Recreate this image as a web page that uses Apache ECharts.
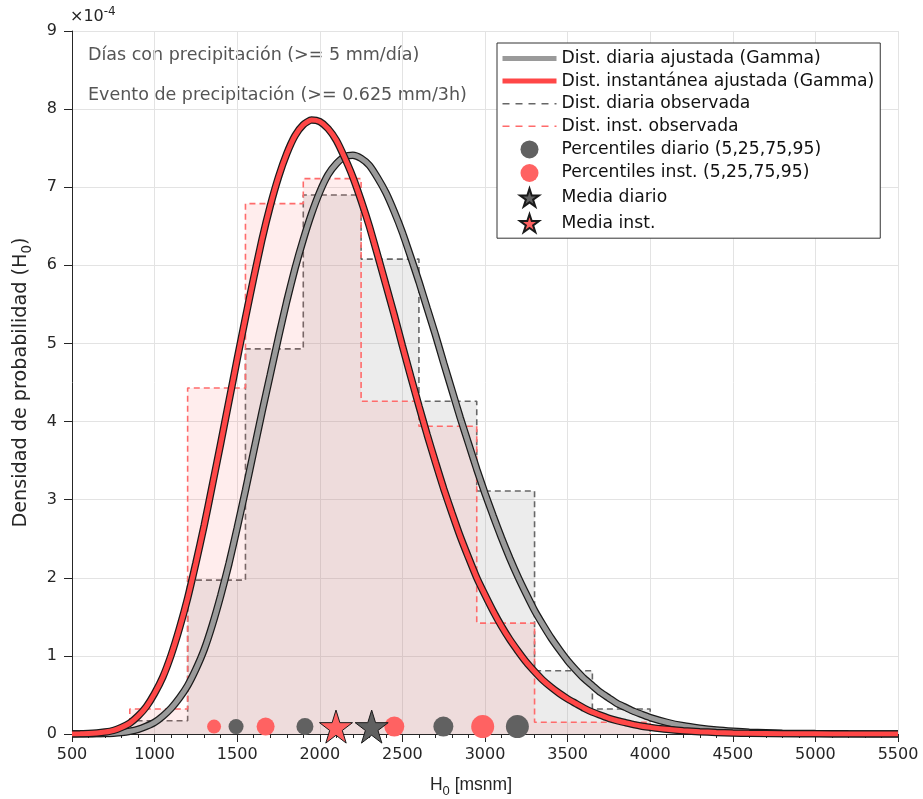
<!DOCTYPE html>
<html>
<head>
<meta charset="utf-8">
<script src="https://cdn.jsdelivr.net/npm/echarts@6/dist/echarts.min.js"></script>
<style>
  html, body { margin: 0; padding: 0; background: #fff; }
  #chart { width: 923px; height: 799px; }
</style>
</head>
<body>
<div id="chart"></div>
<script>
// ---- Data (density values in units of 1e-4) ----
const xTicks = [500, 1000, 1500, 2000, 2500, 3000, 3500, 4000, 4500, 5000, 5500];
const yTicks = [0, 1, 2, 3, 4, 5, 6, 7, 8, 9];
const binEdges = [850, 1200, 1550, 1900, 2250, 2600, 2950, 3300, 3650, 4000];
const dailyHist = [0.17, 1.97, 4.93, 6.90, 6.08, 4.26, 3.11, 0.81, 0.32];
const instHist  = [0.32, 4.43, 6.79, 7.11, 4.26, 3.94, 1.42, 0.15, 0.15];

const curveX = [500,550,600,650,700,750,800,850,900,950,1000,1050,1100,1150,1200,1250,1300,1350,1400,1450,1500,1550,1600,1650,1700,1750,1800,1850,1900,1950,2000,2050,2100,2150,2200,2250,2300,2350,2400,2450,2500,2550,2600,2650,2700,2750,2800,2850,2900,2950,3000,3050,3100,3150,3200,3250,3300,3350,3400,3450,3500,3550,3600,3650,3700,3750,3800,3850,3900,3950,4000,4100,4200,4300,4400,4500,4600,4800,5000,5200,5500];
const dailyFit = [0,0,0.001,0.002,0.005,0.01,0.019,0.035,0.06,0.099,0.15,0.23,0.33,0.46,0.62,0.83,1.08,1.40,1.77,2.18,2.64,3.12,3.62,4.12,4.60,5.08,5.54,5.96,6.33,6.66,6.94,7.16,7.30,7.39,7.41,7.37,7.28,7.12,6.93,6.69,6.42,6.11,5.79,5.45,5.11,4.75,4.40,4.05,3.72,3.39,3.08,2.79,2.51,2.25,2.01,1.79,1.58,1.40,1.23,1.08,0.94,0.82,0.71,0.62,0.53,0.46,0.39,0.34,0.29,0.25,0.21,0.15,0.105,0.075,0.052,0.036,0.024,0.011,0.005,0.002,0.0005];
const instFit  = [0,0.002,0.005,0.012,0.025,0.045,0.085,0.14,0.23,0.35,0.52,0.73,1.01,1.35,1.74,2.19,2.67,3.19,3.72,4.26,4.80,5.33,5.84,6.33,6.76,7.13,7.43,7.66,7.80,7.86,7.84,7.75,7.60,7.38,7.13,6.83,6.50,6.13,5.75,5.37,4.97,4.58,4.20,3.83,3.48,3.14,2.83,2.53,2.26,2.00,1.78,1.57,1.38,1.21,1.06,0.92,0.80,0.69,0.60,0.52,0.45,0.39,0.33,0.28,0.24,0.20,0.17,0.145,0.12,0.10,0.085,0.06,0.042,0.029,0.02,0.013,0.009,0.004,0.002,0.001,0];

const dailyPct = [1493, 1910, 2748, 3196];
const instPct  = [1360, 1672, 2451, 2986];
const markerLevel = 0.095;
const dailyMean = 2314;
const instMean = 2098;

const legendNames = [
  'Dist. diaria ajustada (Gamma)',
  'Dist. instantánea ajustada (Gamma)',
  'Dist. diaria observada',
  'Dist. inst. observada',
  'Percentiles diario (5,25,75,95)',
  'Percentiles inst. (5,25,75,95)',
  'Media diario',
  'Media inst.'
];
const annotations = ['Días con precipitación (>= 5 mm/día)', 'Evento de precipitación (>= 0.625 mm/3h)'];

// ---- Builders ----
function stepOutline(edges, vals) {
  const pts = [[edges[0], 0]];
  for (let i = 0; i < vals.length; i++) {
    pts.push([edges[i], vals[i]]);
    pts.push([edges[i + 1], vals[i]]);
  }
  pts.push([edges[edges.length - 1], 0]);
  return pts;
}
const zip = (xs, ys) => xs.map((x, i) => [x, ys[i]]);

const dailyPctSizes = [15, 17, 20, 23];
const instPctSizes = [14, 18, 20, 23];
const STAR = 'path://M50,0 L61.2,34.5 L97.6,34.5 L68.2,55.9 L79.4,90.5 L50,69.1 L20.6,90.5 L31.8,55.9 L2.4,34.5 L38.8,34.5 Z';

const FONT = 'DejaVu Sans';
const chart = echarts.init(document.getElementById('chart'), null, { renderer: 'canvas' });
const hideSym = { opacity: 0 };
const SMOOTH = 0.2;

const option = {
  backgroundColor: '#ffffff',
  animation: false,
  textStyle: { fontFamily: FONT },
  grid: { left: 72, right: 25, top: 31, bottom: 65, containLabel: false, outerBoundsMode: 'none' },
  xAxis: {
    type: 'value', min: xTicks[0], max: xTicks[xTicks.length - 1], interval: 500,
    name: 'H{sub|0} [msnm]', nameLocation: 'middle', nameGap: 39,
    nameTextStyle: { fontSize: 17.5, color: '#262626', fontFamily: 'Liberation Sans', padding: [0, 28, 0, 0],
      rich: { sub: { fontSize: 13, verticalAlign: 'bottom', padding: [12, 0, 0, 0], color: '#262626', fontFamily: 'Liberation Sans' } } },
    axisLine: { show: true, lineStyle: { color: '#262626', width: 1 } },
    axisTick: { show: true, inside: false, length: 8, lineStyle: { color: '#262626' } },
    minorTick: { show: true, splitNumber: 5, length: 4, lineStyle: { color: '#262626' } },
    axisLabel: { fontSize: 16, color: '#262626', margin: 13, fontFamily: FONT, formatter: v => String(v) },
    splitLine: { show: true, lineStyle: { color: '#e3e3e3', width: 1 } }
  },
  yAxis: {
    type: 'value', min: 0, max: 9, interval: 1,
    name: 'Densidad de probabilidad (H{sub|0})', nameLocation: 'middle', nameGap: 38, nameRotate: 90,
    nameTextStyle: { fontSize: 19.2, color: '#262626', fontFamily: FONT,
      rich: { sub: { fontSize: 13.5, verticalAlign: 'bottom', padding: [12, 0, 0, 0], color: '#262626', fontFamily: FONT } } },
    axisLine: { show: true, lineStyle: { color: '#262626', width: 1 } },
    axisTick: { show: true, inside: false, length: 8, lineStyle: { color: '#262626' } },
    axisLabel: { fontSize: 16, color: '#262626', margin: 15, fontFamily: FONT, formatter: v => String(v) },
    splitLine: { show: true, lineStyle: { color: '#e3e3e3', width: 1 } }
  },
  legend: {
    orient: 'vertical', left: 497, top: 43,
    backgroundColor: '#ffffff', borderColor: '#333333', borderWidth: 1,
    padding: [7, 6, 5, 3], itemWidth: 54, itemHeight: 18, itemGap: 5.6,
    textStyle: { fontSize: 17.2, color: '#111', fontFamily: FONT },
    data: [
      { name: legendNames[0], itemStyle: hideSym, lineStyle: { width: 5, color: '#9a9a9a', type: 'solid' } },
      { name: legendNames[1], itemStyle: hideSym, lineStyle: { width: 5, color: '#ff4747', type: 'solid' } },
      { name: legendNames[2], itemStyle: hideSym, lineStyle: { width: 1.6, color: '#676767', type: [7, 6] } },
      { name: legendNames[3], itemStyle: hideSym, lineStyle: { width: 1.6, color: '#ff6b6b', type: [7, 6] } },
      { name: legendNames[4] },
      { name: legendNames[5] },
      { name: legendNames[6] },
      { name: legendNames[7] }
    ]
  },
  graphic: [
    { type: 'text', left: 70, top: 6, style: { text: '×10{sup|-4}', fill: '#262626', font: '16px DejaVu Sans',
      rich: { sup: { fontSize: 12, verticalAlign: 'top', padding: [0, 0, 10, 0], fill: '#262626', fontFamily: FONT } } } },
    { type: 'text', left: 88, top: 46, style: { text: annotations[0], fill: '#555555', font: '17.5px DejaVu Sans' } },
    { type: 'text', left: 88, top: 86, style: { text: annotations[1], fill: '#555555', font: '17.5px DejaVu Sans' } }
  ],
  series: [
    {
      name: legendNames[2], type: 'line', z: 1, symbol: 'none', silent: true,
      data: stepOutline(binEdges, dailyHist),
      lineStyle: { color: '#676767', width: 1.6, type: [6, 4] },
      itemStyle: { color: '#676767' },
      areaStyle: { color: 'rgba(150,150,150,0.25)', origin: 0 }
    },
    {
      name: legendNames[3], type: 'line', z: 2, symbol: 'none', silent: true,
      data: stepOutline(binEdges, instHist),
      lineStyle: { color: '#ff6b6b', width: 1.6, type: [6, 4] },
      itemStyle: { color: '#ff6b6b' },
      areaStyle: { color: 'rgba(255,100,100,0.16)', origin: 0 }
    },
    {
      name: 'outline-daily', type: 'line', z: 3, symbol: 'none', smooth: SMOOTH, silent: true,
      data: zip(curveX, dailyFit), lineStyle: { color: '#1a1a1a', width: 7.5 }
    },
    {
      name: legendNames[0], type: 'line', z: 3, symbol: 'none', smooth: SMOOTH, silent: true,
      data: zip(curveX, dailyFit), lineStyle: { color: '#9a9a9a', width: 5 }, itemStyle: { color: '#9a9a9a' }
    },
    {
      name: 'outline-inst', type: 'line', z: 4, symbol: 'none', smooth: SMOOTH, silent: true,
      data: zip(curveX, instFit), lineStyle: { color: '#1a1a1a', width: 7.5 }
    },
    {
      name: legendNames[1], type: 'line', z: 4, symbol: 'none', smooth: SMOOTH, silent: true,
      data: zip(curveX, instFit), lineStyle: { color: '#ff4747', width: 5 }, itemStyle: { color: '#ff4747' }
    },
    {
      name: legendNames[4], type: 'scatter', z: 5, symbol: 'circle',
      symbolSize: (v, p) => dailyPctSizes[p.dataIndex],
      data: dailyPct.map(x => [x, markerLevel]),
      itemStyle: { color: '#616161', borderColor: '#616161', borderWidth: 0, opacity: 1 }
    },
    {
      name: legendNames[5], type: 'scatter', z: 5, symbol: 'circle',
      symbolSize: (v, p) => instPctSizes[p.dataIndex],
      data: instPct.map(x => [x, markerLevel]),
      itemStyle: { color: '#ff6262', borderColor: '#ff6262', borderWidth: 0, opacity: 1 }
    },
    {
      name: legendNames[6], type: 'scatter', z: 6, symbol: STAR, symbolSize: 33,
      data: [[dailyMean, markerLevel]],
      itemStyle: { color: '#606060', borderColor: '#1a1a1a', borderWidth: 1, opacity: 1 }
    },
    {
      name: legendNames[7], type: 'scatter', z: 6, symbol: STAR, symbolSize: 33,
      data: [[instMean, markerLevel]],
      itemStyle: { color: '#ff6060', borderColor: '#1a1a1a', borderWidth: 1, opacity: 1 }
    }
  ]
};
chart.setOption(option);
</script>
</body>
</html>
